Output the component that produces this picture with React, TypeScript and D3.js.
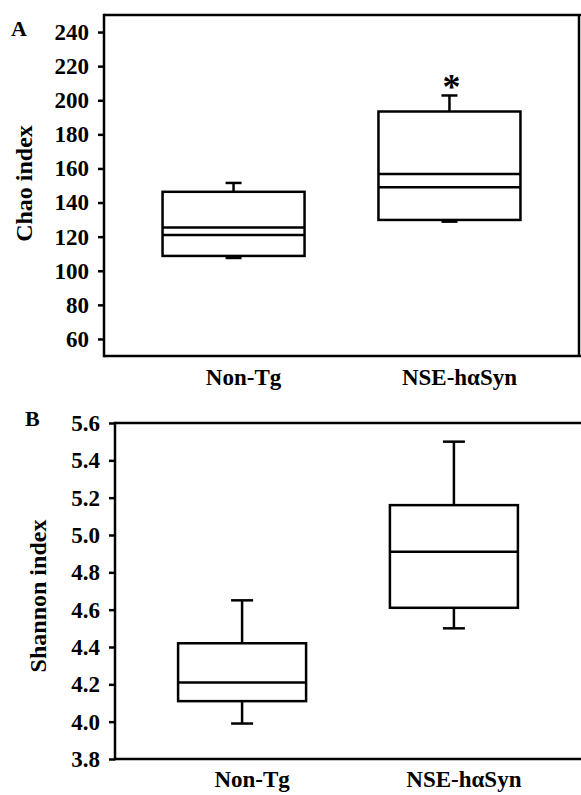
import React, { useEffect, useRef } from 'react';
import * as d3 from 'd3';

const groups = ['Non-Tg', 'NSE-hαSyn'];

// panel A: Chao index
const chaoLow = [107.5, 128.8];
const chaoQ1 = [108.7, 129.8];
const chaoMedian = [121, 149];
const chaoMean = [125.3, 156.8];
const chaoQ3 = [146.3, 193.4];
const chaoHigh = [151.5, 202.8];
const chaoTicks = [60, 80, 100, 120, 140, 160, 180, 200, 220, 240];

// panel B: Shannon index
const shannonLow = [3.99, 4.5];
const shannonQ1 = [4.11, 4.61];
const shannonMedian = [4.21, 4.91];
const shannonQ3 = [4.42, 5.16];
const shannonHigh = [4.65, 5.5];
const shannonTicks = [3.8, 4.0, 4.2, 4.4, 4.6, 4.8, 5.0, 5.2, 5.4, 5.6];

const FONT = "'Liberation Serif', serif";

const App = () => {
    const ref = useRef(null);

    useEffect(() => {
        const svg = d3.select(ref.current);
        svg.selectAll('*').remove();

        const drawPanel = (opts) => {
            const { left, right, top, bottom, domain, ticks, fmt, label, letter, letterX, letterY,
                labelX, labelDy, boxW, capW, series, lines, frameRight, star, xLabelDy } = opts;

            const y = d3.scaleLinear().domain(domain).range([bottom, top]);
            const x = d3.scalePoint().domain(groups).range([left, right]).padding(0.6);
            const g = svg.append('g').style('font-family', FONT).style('font-weight', 'bold');

            // frame
            g.append('line').attr('x1', left).attr('x2', right + 2).attr('y1', top).attr('y2', top)
                .attr('stroke', '#000').attr('stroke-width', 2.5);
            g.append('line').attr('x1', left).attr('x2', right + 2).attr('y1', bottom).attr('y2', bottom)
                .attr('stroke', '#000').attr('stroke-width', 2.5);
            if (frameRight) {
                g.append('line').attr('x1', right).attr('x2', right).attr('y1', top).attr('y2', bottom)
                    .attr('stroke', '#000').attr('stroke-width', 2.5);
            }

            // y axis
            const axis = g.append('g')
                .attr('transform', `translate(${left},0)`)
                .call(d3.axisLeft(y).tickValues(ticks).tickFormat(fmt).tickSize(6).tickPadding(9));
            axis.attr('font-family', null).attr('font-size', null);
            axis.select('.domain').attr('stroke-width', 2.5).attr('d', `M0,${bottom + 1.25}V${top - 1.25}`);
            axis.selectAll('.tick line').attr('stroke-width', 2.5);
            axis.selectAll('.tick text')
                .style('font-family', FONT).style('font-weight', 'bold').style('font-size', '23px').attr('fill', '#000');

            g.append('text')
                .attr('transform', `translate(${labelX},${(top + bottom) / 2 + labelDy}) rotate(-90)`)
                .attr('text-anchor', 'middle')
                .style('font-size', '24px')
                .text(label);

            g.append('text').attr('x', letterX).attr('y', letterY)
                .style('font-size', '22px')
                .text(letter);

            // boxes
            groups.forEach((name, i) => {
                const cx = x(name);
                const s = {
                    low: series.low[i], q1: series.q1[i], q3: series.q3[i], high: series.high[i]
                };
                const bg = g.append('g').attr('stroke', '#000').attr('stroke-width', 2.5).attr('fill', 'none');
                bg.append('line').attr('x1', cx).attr('x2', cx).attr('y1', y(s.high)).attr('y2', y(s.q3));
                bg.append('line').attr('x1', cx).attr('x2', cx).attr('y1', y(s.q1)).attr('y2', y(s.low));
                bg.append('line').attr('x1', cx - capW / 2).attr('x2', cx + capW / 2).attr('y1', y(s.high)).attr('y2', y(s.high));
                bg.append('line').attr('x1', cx - capW / 2).attr('x2', cx + capW / 2).attr('y1', y(s.low)).attr('y2', y(s.low));
                bg.append('rect').attr('x', cx - boxW / 2).attr('y', y(s.q3))
                    .attr('width', boxW).attr('height', y(s.q1) - y(s.q3)).attr('fill', '#fff');
                lines.forEach((arr) => {
                    bg.append('line').attr('x1', cx - boxW / 2).attr('x2', cx + boxW / 2)
                        .attr('y1', y(arr[i])).attr('y2', y(arr[i]));
                });

                g.append('text').attr('x', cx + 10).attr('y', bottom + xLabelDy)
                    .attr('text-anchor', 'middle')
                    .style('font-size', '23px')
                    .text(name);

                if (star && star[i]) {
                    g.append('text').attr('x', cx + 2).attr('y', y(s.high) + 4)
                        .attr('text-anchor', 'middle')
                        .style('font-size', '36px')
                        .text('*');
                }
            });
        };

        drawPanel({
            left: 104, right: 579, top: 15, bottom: 356,
            domain: [50, 250], ticks: chaoTicks, fmt: d3.format('d'),
            label: 'Chao index', labelX: 32, labelDy: -2, letter: 'A', letterX: 11, letterY: 36,
            boxW: 142, capW: 16, frameRight: true, star: [false, true], xLabelDy: 29,
            series: { low: chaoLow, q1: chaoQ1, q3: chaoQ3, high: chaoHigh },
            lines: [chaoMedian, chaoMean]
        });

        drawPanel({
            left: 115, right: 581, top: 423, bottom: 759,
            domain: [3.8, 5.6], ticks: shannonTicks, fmt: d3.format('.1f'),
            label: 'Shannon index', labelX: 46, labelDy: 5, letter: 'B', letterX: 25, letterY: 426,
            boxW: 128, capW: 22, frameRight: false, star: null, xLabelDy: 28,
            series: { low: shannonLow, q1: shannonQ1, q3: shannonQ3, high: shannonHigh },
            lines: [shannonMedian]
        });
    }, []);

    return (
        <svg ref={ref} width={581} height={795}
            style={{ position: 'absolute', left: 0, top: 0, background: '#fff' }} />
    );
};

export default App;
